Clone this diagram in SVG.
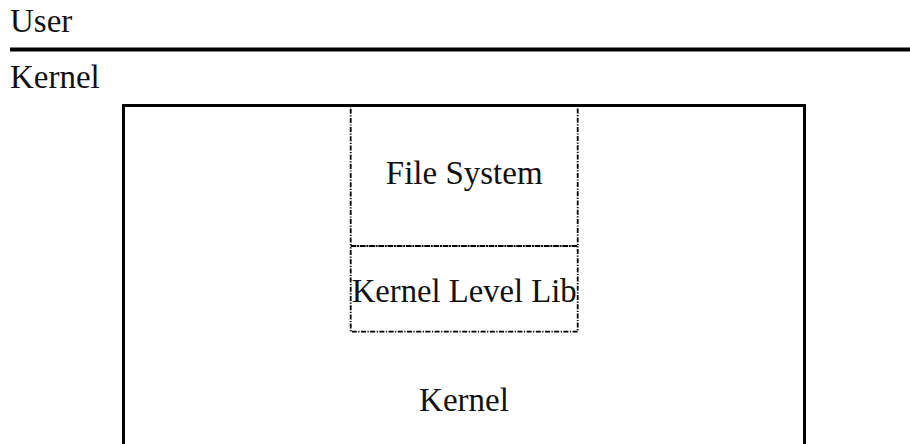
<svg xmlns="http://www.w3.org/2000/svg" width="910" height="444" viewBox="0 0 910 444">
  <style>
    .label { font-family: "Liberation Serif", "DejaVu Serif", serif; font-size: 33px; fill: #111; }
    .mid { text-anchor: middle; }
    .frame { fill: none; stroke: #000; stroke-width: 3; }
    .module { fill: none; stroke: #000; stroke-width: 1.8; stroke-dasharray: 5 1.5 1.2 1.5; }
  </style>
  <rect width="910" height="444" fill="#fff"/>

  <!-- user / kernel boundary -->
  <g id="boundary">
    <text class="label" x="10" y="31.5">User</text>
    <line x1="10" y1="49.5" x2="910" y2="49.5" stroke="#000" stroke-width="4"/>
    <text class="label" x="10" y="88">Kernel</text>
  </g>

  <!-- kernel space, open at the bottom -->
  <g id="kernel">
    <path class="frame" d="M123.5 444 V105.5 H804.5 V444"/>
    <text class="label mid" x="464" y="411">Kernel</text>
  </g>

  <g id="file-system">
    <rect class="module" x="350.7" y="105.5" width="227" height="140.5"/>
    <text class="label mid" x="464.2" y="184">File System</text>
  </g>

  <g id="kernel-level-lib">
    <rect class="module" x="350.7" y="246" width="227" height="85.7"/>
    <text class="label mid" x="464.2" y="301.5" textLength="225" lengthAdjust="spacingAndGlyphs">Kernel Level Lib</text>
  </g>

  <g id="connectors"/>
</svg>
